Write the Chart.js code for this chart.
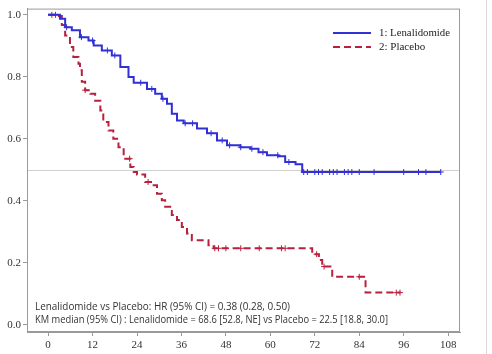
<!DOCTYPE html>
<html>
<head>
<meta charset="utf-8">
<script src="https://cdn.jsdelivr.net/npm/chart.js@4.4.0/dist/chart.umd.min.js"></script>
<style>
  html, body { margin: 0; padding: 0; background: #fff; }
  #wrap { position: relative; width: 492px; height: 354px; }
  #edge { position: absolute; left: 486px; top: 0; width: 1px; height: 354px; background: #d8d8d8; }
</style>
</head>
<body>
<div id="wrap">
  <canvas id="myChart" width="492" height="354"></canvas>
  <div id="edge"></div>
</div>
<script>
// months on study, survival probability (KM steps)
const lenaTimes = [0, 3.2, 4.6, 6.4, 8.6, 10.9, 12.3, 14.5, 17.2, 19.5, 21.7, 23.1, 26.7, 28.9, 30.7, 32.1, 33.4, 34.8, 36.6, 40.2, 42.9, 45.6, 48.3, 51.9, 54.6, 56.8, 59.1, 62.2, 64, 66.8, 68.6, 106];
const lenaSurv  = [1.0, 0.987, 0.96, 0.95, 0.928, 0.917, 0.901, 0.885, 0.869, 0.832, 0.799, 0.781, 0.761, 0.745, 0.729, 0.713, 0.681, 0.659, 0.65, 0.633, 0.618, 0.595, 0.579, 0.573, 0.568, 0.557, 0.547, 0.544, 0.525, 0.518, 0.493, 0.493];
const lenaCensor = [5, 9, 12, 16, 18, 25, 28, 31, 37, 39, 44, 47, 49, 52, 55, 58, 62, 65, 69, 70, 72, 73, 74, 76, 77, 78, 80, 81, 82, 84, 88, 96, 100, 102, 106];

const placTimes = [0, 2.3, 3.7, 4.6, 5.9, 6.8, 8.2, 8.6, 9.1, 10, 11.4, 12.7, 14.1, 14.9, 16.3, 17.6, 19, 20.4, 22.2, 23.1, 24, 26.2, 28.5, 29.4, 30.7, 31.6, 33.4, 34.8, 36.1, 37.5, 38.8, 43.3, 44.7, 71.3, 73.1, 74, 76.7, 85.7, 95.1];
const placSurv  = [1.0, 0.996, 0.967, 0.933, 0.896, 0.864, 0.842, 0.821, 0.784, 0.757, 0.745, 0.723, 0.691, 0.654, 0.627, 0.6, 0.573, 0.536, 0.509, 0.493, 0.485, 0.461, 0.45, 0.423, 0.402, 0.381, 0.354, 0.338, 0.316, 0.295, 0.273, 0.257, 0.247, 0.228, 0.209, 0.188, 0.155, 0.104, 0.104];
const placCensor = [1, 2, 10, 22, 27, 45, 46, 48, 52, 57, 63, 64, 72.5, 74.5, 84, 94, 95];

const xTicks = [0, 12, 24, 36, 48, 60, 72, 84, 96, 108];
const yTicks = [0.0, 0.2, 0.4, 0.6, 0.8, 1.0];

const blue = 'rgb(48, 48, 214)';
const red = 'rgb(184, 32, 62)';

function stepAt(times, surv, t) {
    let s = surv[0];
    for (let i = 0; i < times.length; i++) {
        if (times[i] <= t) s = surv[i];
    }
    return s;
}

function toPoints(times, surv) {
    return times.map((t, i) => ({ x: t, y: surv[i] }));
}

function censorPoints(times, surv, cens) {
    return cens.map(t => ({ x: t, y: stepAt(times, surv, t) }));
}

const serif = '"Liberation Serif", "DejaVu Serif", serif';

const extras = {
    id: 'extras',
    beforeDatasetsDraw(chart) {
        const { ctx, chartArea: a, scales } = chart;
        const y5 = scales.y.getPixelForValue(0.5);
        ctx.save();
        ctx.strokeStyle = '#d0d0d0';
        ctx.lineWidth = 1;
        ctx.beginPath();
        ctx.moveTo(a.left, Math.round(y5) + 0.5);
        ctx.lineTo(a.right, Math.round(y5) + 0.5);
        ctx.stroke();
        ctx.restore();
    },
    afterDraw(chart) {
        const { ctx, chartArea: a } = chart;
        ctx.save();
        // frame
        ctx.strokeStyle = '#9a9a9a';
        ctx.lineWidth = 1;
        ctx.strokeRect(a.left + 0.5, a.top + 0.5, a.right - a.left - 1, a.bottom - a.top - 1);

        // legend
        ctx.lineWidth = 2;
        ctx.strokeStyle = blue;
        ctx.beginPath();
        ctx.moveTo(333, 33);
        ctx.lineTo(371, 33);
        ctx.stroke();
        ctx.strokeStyle = red;
        ctx.setLineDash([7, 4]);
        ctx.beginPath();
        ctx.moveTo(333, 47);
        ctx.lineTo(371, 47);
        ctx.stroke();
        ctx.setLineDash([]);
        ctx.fillStyle = '#222';
        ctx.font = '11px ' + serif;
        ctx.textBaseline = 'middle';
        ctx.fillText('1: Lenalidomide', 379, 33, 71);
        ctx.fillText('2: Placebo', 379, 47);

        // footnote
        ctx.font = '10.5px "Open Sans", "Liberation Sans", sans-serif';
        ctx.fillStyle = '#333';
        ctx.fillText('Lenalidomide vs Placebo: HR (95% CI) = 0.38 (0.28, 0.50)', 35, 307, 255);
        ctx.fillText('KM median (95% CI) : Lenalidomide = 68.6 [52.8, NE] vs Placebo = 22.5 [18.8, 30.0]', 35, 320, 353);
        ctx.restore();
    }
};

const ctx = document.getElementById('myChart').getContext('2d');
const myChart = new Chart(ctx, {
    type: 'line',
    data: {
        datasets: [
            {
                label: '1: Lenalidomide',
                data: toPoints(lenaTimes, lenaSurv),
                borderColor: blue,
                borderWidth: 2,
                stepped: true,
                pointRadius: 0,
                fill: false
            },
            {
                label: '2: Placebo',
                data: toPoints(placTimes, placSurv),
                borderColor: red,
                borderWidth: 2,
                borderDash: [7, 4],
                stepped: true,
                pointRadius: 0,
                fill: false
            },
            {
                label: 'lena censored',
                data: censorPoints(lenaTimes, lenaSurv, lenaCensor),
                showLine: false,
                pointStyle: 'cross',
                pointRadius: 3,
                borderColor: blue,
                borderWidth: 1
            },
            {
                label: 'plac censored',
                data: censorPoints(placTimes, placSurv, placCensor),
                showLine: false,
                pointStyle: 'cross',
                pointRadius: 3,
                borderColor: red,
                borderWidth: 1
            }
        ]
    },
    options: {
        responsive: false,
        animation: false,
        layout: { padding: { left: 0, top: 8, right: 32, bottom: 0 } },
        plugins: {
            legend: { display: false },
            tooltip: { enabled: false }
        },
        scales: {
            x: {
                type: 'linear',
                min: -5.7,
                max: 111.2,
                afterBuildTicks: s => { s.ticks = xTicks.map(v => ({ value: v })); },
                afterFit: s => { s.height = 22; },
                grid: { drawOnChartArea: false, drawTicks: true, tickLength: 4, color: '#9a9a9a' },
                border: { color: '#9a9a9a' },
                ticks: { color: '#333', font: { family: serif, size: 11 }, padding: 3 }
            },
            y: {
                type: 'linear',
                min: -0.023,
                max: 1.02,
                afterBuildTicks: s => { s.ticks = yTicks.map(v => ({ value: v })); },
                afterFit: s => { s.width = 27; },
                grid: { drawOnChartArea: false, drawTicks: true, tickLength: 4, color: '#9a9a9a' },
                border: { color: '#9a9a9a' },
                ticks: {
                    color: '#333',
                    font: { family: serif, size: 11 },
                    padding: 2,
                    callback: v => v.toFixed(1)
                }
            }
        }
    },
    plugins: [extras]
});
</script>
</body>
</html>
